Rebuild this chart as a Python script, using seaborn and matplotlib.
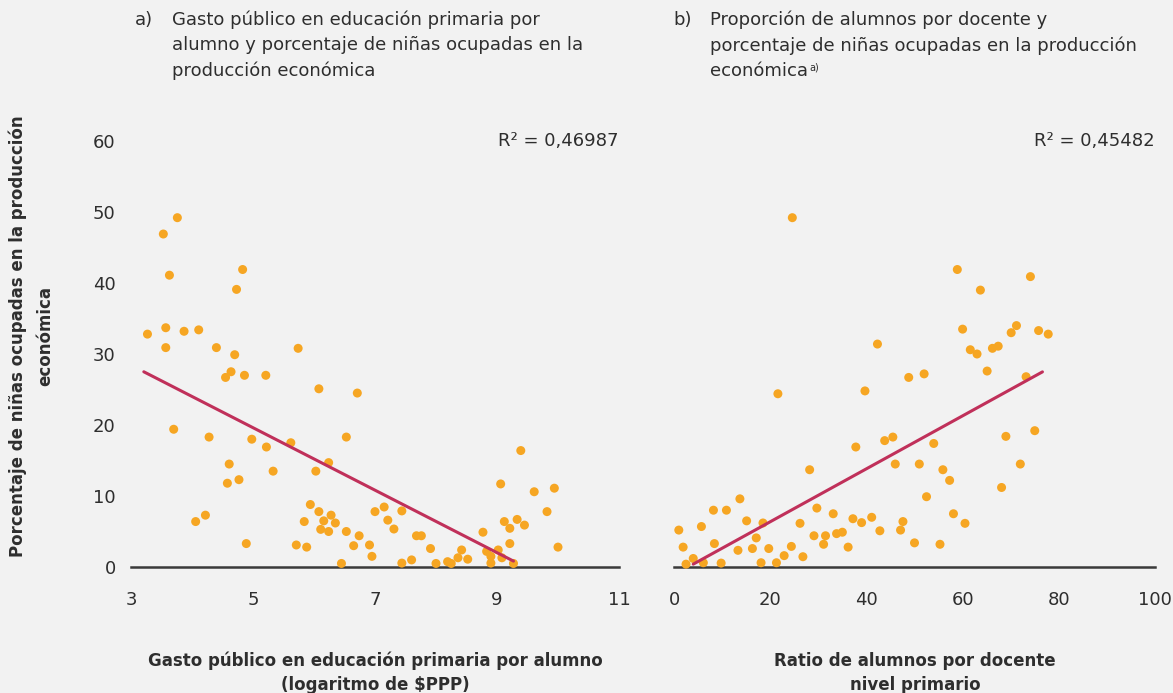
import numpy as np
import pandas as pd
import seaborn as sns
import matplotlib
matplotlib.use("Agg")
import matplotlib.pyplot as plt

# Panel a: public spending per primary pupil (log PPP $) vs. % of girls in economic work
gasto_x = [3.76, 3.53, 3.63, 4.83, 4.73, 3.27, 3.57, 3.87, 4.11, 3.57, 4.40, 4.70,
           5.74, 4.64, 4.55, 4.86, 5.21, 6.08, 6.71, 3.70, 4.28, 4.98, 5.22, 5.62,
           6.53, 4.61, 4.58, 4.77, 5.33, 6.03, 6.24, 4.06, 4.22, 4.89, 5.94, 6.08,
           5.84, 6.16, 6.28, 6.35, 6.11, 6.24, 5.71, 5.88, 6.53, 6.74, 6.65, 6.91,
           6.95, 6.45, 7.00, 7.15, 7.21, 7.31, 7.44, 7.44, 7.60, 7.68, 7.76, 7.91,
           8.00, 8.19, 8.25, 8.36, 8.42, 8.52, 8.77, 8.83, 8.90, 8.90, 9.02, 9.08,
           9.21, 9.27, 9.21, 9.12, 9.33, 9.45, 9.06, 9.39, 9.61, 9.94, 9.82, 10.0]
gasto_y = [49.2, 46.9, 41.1, 41.9, 39.1, 32.8, 33.7, 33.2, 33.4, 30.9, 30.9, 29.9,
           30.8, 27.5, 26.7, 27.0, 27.0, 25.1, 24.5, 19.4, 18.3, 18.0, 16.9, 17.5,
           18.3, 14.5, 11.8, 12.3, 13.5, 13.5, 14.7, 6.4, 7.3, 3.3, 8.8, 7.8,
           6.4, 6.5, 7.3, 6.2, 5.3, 5.0, 3.1, 2.8, 5.0, 4.4, 3.0, 3.1,
           1.5, 0.5, 7.8, 8.45, 6.6, 5.35, 7.9, 0.55, 1.0, 4.4, 4.4, 2.6,
           0.5, 0.75, 0.5, 1.3, 2.4, 1.1, 4.9, 2.2, 1.5, 0.55, 2.4, 1.3,
           3.3, 0.5, 5.45, 6.4, 6.7, 5.9, 11.7, 16.4, 10.6, 11.1, 7.8, 2.8]

# Panel b: pupils per teacher (primary) vs. % of girls in economic work
ratio_x = [24.6, 42.3, 48.8, 39.7, 21.6, 37.8, 43.8, 45.5, 46.0, 28.2, 13.7, 8.2,
           10.9, 1.0, 5.7, 15.1, 18.5, 29.7, 33.1, 26.2, 37.2, 39.0, 41.1, 47.6,
           47.1, 42.8, 35.0, 33.8, 31.5, 29.1, 31.1, 36.2, 17.1, 8.4, 1.9, 13.3,
           16.3, 19.7, 24.4, 22.9, 26.8, 2.5, 4.0, 6.1, 9.8, 18.1, 21.3,
           58.9, 74.1, 63.7, 60.0, 71.2, 70.1, 75.8, 77.8, 61.6, 63.0, 66.2, 67.4,
           65.1, 52.0, 73.2, 69.0, 75.0, 54.0, 51.0, 55.9, 57.3, 72.0, 68.1, 52.5,
           58.1, 60.5, 50.0, 55.3]
ratio_y = [49.2, 31.4, 26.7, 24.8, 24.4, 16.9, 17.8, 18.3, 14.5, 13.7, 9.6, 8.0,
           8.0, 5.2, 5.7, 6.5, 6.2, 8.3, 7.5, 6.15, 6.8, 6.25, 7.0, 6.4,
           5.2, 5.1, 4.9, 4.7, 4.4, 4.4, 3.2, 2.8, 4.1, 3.3, 2.8, 2.35,
           2.6, 2.6, 2.9, 1.6, 1.45, 0.4, 1.2, 0.6, 0.55, 0.6, 0.6,
           41.9, 40.9, 39.0, 33.5, 34.0, 33.0, 33.3, 32.8, 30.6, 30.0, 30.8, 31.1,
           27.6, 27.2, 26.8, 18.4, 19.2, 17.4, 14.5, 13.7, 12.2, 14.5, 11.2, 9.9,
           7.5, 6.15, 3.4, 3.2]

# Linear trend lines: slope, intercept, x-range
fit_a = dict(slope=-4.40, intercept=41.62, x0=3.21, x1=9.27, r2="0,46987")
fit_b = dict(slope=0.373, intercept=-1.09, x0=4.0, x1=76.6, r2="0,45482")

x_ticks_a = [3, 5, 7, 9, 11]
x_ticks_b = [0, 20, 40, 60, 80, 100]
y_ticks = [0, 10, 20, 30, 40, 50, 60]

title_a = ["Gasto público en educación primaria por",
           "alumno y porcentaje de niñas ocupadas en la",
           "producción económica"]
title_b = ["Proporción de alumnos por docente y",
           "porcentaje de niñas ocupadas en la producción",
           "económica"]
xlabel_a = ["Gasto público en educación primaria por alumno", "(logaritmo de \\$PPP)"]
xlabel_b = ["Ratio de alumnos por docente", "nivel primario"]
ylabel = ["Porcentaje de niñas ocupadas en la producción", "económica"]

BG = "#f2f2f2"
ORANGE = "#f6a623"
LINE = "#c0305a"
TEXT = "#2e2e2e"
FS = 13
FS_BOLD = 12

sns.set_theme(style="white")
plt.rcParams["font.family"] = ["DejaVu Sans"]
plt.rcParams["text.color"] = TEXT
plt.rcParams["xtick.color"] = TEXT
plt.rcParams["ytick.color"] = TEXT

W, H = 1173, 693
fig = plt.figure(figsize=(W / 100, H / 100), dpi=100, facecolor=BG)


def px_axes(x0, x1, y_top, y_bot):
    return fig.add_axes([x0 / W, 1 - y_bot / H, (x1 - x0) / W, (y_bot - y_top) / H])


ax_a = px_axes(131, 619, 141, 567)
ax_b = px_axes(674, 1155, 141, 567)

df_a = pd.DataFrame({"x": gasto_x, "y": gasto_y})
df_b = pd.DataFrame({"x": ratio_x, "y": ratio_y})

for ax, df, fit, xt, xlim in [(ax_a, df_a, fit_a, x_ticks_a, (3, 11)),
                              (ax_b, df_b, fit_b, x_ticks_b, (0, 100))]:
    ax.set_facecolor(BG)
    sns.scatterplot(data=df, x="x", y="y", ax=ax, color=ORANGE, s=42,
                    edgecolor="none", clip_on=False, zorder=3)
    lx = np.array([fit["x0"], fit["x1"]])
    ly = fit["slope"] * lx + fit["intercept"]
    sns.lineplot(x=lx, y=ly, ax=ax, color=LINE, linewidth=2.2, zorder=4)
    ax.set_xlim(*xlim)
    ax.set_ylim(0, 60)
    ax.set_xticks(xt)
    ax.set_xticklabels([str(v) for v in xt])
    ax.set_xlabel("")
    ax.set_ylabel("")
    for s in ["top", "right", "left"]:
        ax.spines[s].set_visible(False)
    ax.spines["bottom"].set_color("#3a3a3a")
    ax.spines["bottom"].set_linewidth(1.8)
    ax.tick_params(axis="x", length=0, pad=17, labelsize=FS)
    ax.text(xlim[1], 60, "R² = " + fit["r2"], ha="right", va="center",
            fontsize=FS, color=TEXT)

ax_a.set_yticks(y_ticks)
ax_a.set_yticklabels([str(v) for v in y_ticks])
ax_a.tick_params(axis="y", length=0, pad=11, labelsize=FS)
ax_b.set_yticks([])

# Panel titles
def title_block(xl, xt, label, lines):
    fig.text(xl / W, 1 - 20 / H, label, ha="left", va="center", fontsize=FS)
    objs = []
    for i, ln in enumerate(lines):
        objs.append(fig.text(xt / W, 1 - (20 + 25.5 * i) / H, ln, ha="left",
                             va="center", fontsize=FS))
    return objs

title_block(135, 172, "a)", title_a)
tb = title_block(673, 710, "b)", title_b)

# Superscript note mark after the last title line of panel b
fig.canvas.draw()
bb = tb[-1].get_window_extent(renderer=fig.canvas.get_renderer())
fig.text((bb.x1 + 1) / W, (bb.y1 - 0.3 * bb.height) / H, "a)", ha="left",
         va="center", fontsize=7)

# Axis titles
for cx, lines in [(375, xlabel_a), (915, xlabel_b)]:
    for i, ln in enumerate(lines):
        fig.text(cx / W, 1 - (661 + 24 * i) / H, ln, ha="center", va="center",
                 fontsize=FS_BOLD, fontweight="bold")

for i, ln in enumerate(ylabel):
    fig.text((18 + 27 * i) / W, 1 - 336 / H, ln, ha="center", va="center",
             rotation=90, fontsize=FS_BOLD, fontweight="bold")

fig.savefig("out.png", dpi=100, facecolor=BG)
